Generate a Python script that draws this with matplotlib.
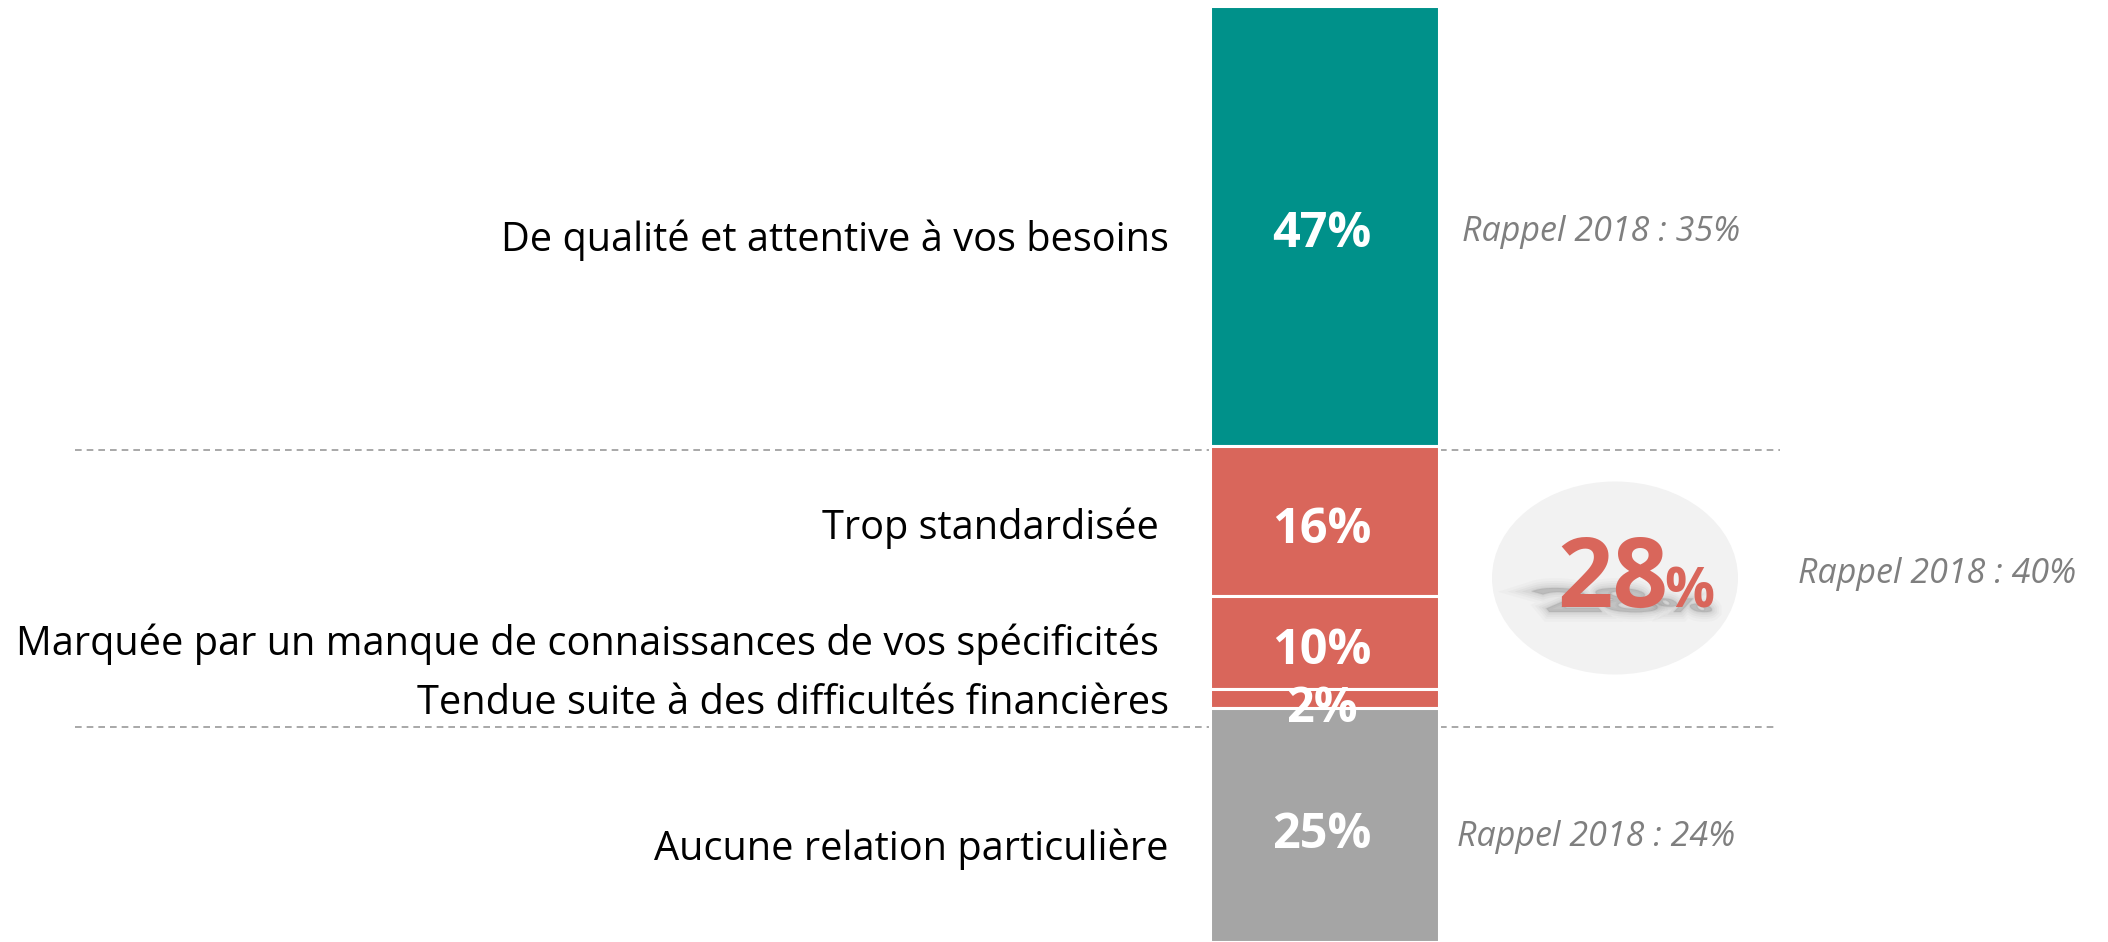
import numpy as np
import matplotlib
matplotlib.use("Agg")
import matplotlib.pyplot as plt
import matplotlib.transforms as mtransforms
from matplotlib.patches import Ellipse, PathPatch
from matplotlib.textpath import TextPath
from matplotlib.font_manager import FontProperties

# Données
categories = [
    "De qualité et attentive à vos besoins",
    "Trop standardisée ",
    "Marquée par un manque de connaissances de vos spécificités ",
    "Tendue suite à des difficultés financières",
    "Aucune relation particulière",
]
valeurs = [47, 16, 10, 2, 25]
couleurs = ["#00918A", "#D9665B", "#D9665B", "#D9665B", "#A5A5A5"]
total_negatif = 28
rappels = ["Rappel 2018 : 35%", "Rappel 2018 : 40%", "Rappel 2018 : 24%"]

W, H = 2108, 942
plt.rcParams['font.family'] = ['Open Sans', 'DejaVu Sans']

fig = plt.figure(figsize=(W / 100, H / 100), dpi=100)
# axe principal : x en pixels, y en pourcentage (0 en haut)
ax = fig.add_axes([0, 0, 1, (H - 6) / H])
ax.set_xlim(0, W)
ax.set_ylim(100, 0)
ax.axis("off")

# coordonnées pixel (origine en haut à gauche)
pix = mtransforms.Affine2D().scale(1, -1).translate(0, H)

x_barre = 1324.5
larg_barre = 229

bas = np.concatenate([[0], np.cumsum(valeurs)[:-1]])
ax.bar(x_barre, valeurs, bottom=bas, width=larg_barre, color=couleurs,
       edgecolor="white", linewidth=2.2, zorder=2)

centres = bas + np.array(valeurs) / 2
decal_pct = [0.95, 1.0, 1.0, 1.2, 1.15]
decal_lab = [1.5, 0.8, 0.2, 0.5, 2.6]
for i, v in enumerate(valeurs):
    ax.text(x_barre - 3, centres[i] + decal_pct[i], f"{v}%", color="white",
            fontsize=35, fontweight="bold", ha="center", va="center", zorder=4)
    ax.text(1169, centres[i] + decal_lab[i], categories[i], color="black",
            fontsize=28.6, ha="right", va="center", zorder=4)

# lignes pointillées de séparation
for y, x2 in [(450, 1780), (727, 1776)]:
    ax.plot([75, x2], [y, y], transform=pix, color="#9a9a9a", lw=1.2,
            ls=(0, (4, 3)), zorder=1, clip_on=False)

# rappels 2018
pos_rappels = [(1462, 232), (1798, 574), (1457, 837)]
for txt, (x, y) in zip(rappels, pos_rappels):
    ax.text(x, y, txt, transform=pix, color="#7f7f7f", fontsize=24.5,
            fontstyle="italic", ha="left", va="center", zorder=4)

# bulle 28%
ax.add_patch(Ellipse((1615, 578), 246, 193, transform=pix,
                     facecolor="#f2f2f2", edgecolor="none", zorder=2))

# ombre floue aplatie
fp = FontProperties(family="Open Sans", weight="bold")
tp = TextPath((0, 0), f"{total_negatif}", size=98, prop=fp)
tp2 = TextPath((0, 0), "%", size=56, prop=fp)
for chemin, x0 in [(tp, 1545), (tp2, 1662)]:
    tr = mtransforms.Affine2D().scale(1.08, -0.34).skew_deg(40, 0).translate(x0, 612) + pix
    for lw, a in [(14, 0.03), (10, 0.04), (7, 0.05), (4, 0.06), (1.5, 0.07)]:
        ax.add_patch(PathPatch(chemin, transform=tr, facecolor="#666666",
                               edgecolor="#666666", lw=lw, alpha=a, zorder=3))

ax.text(1557, 607, f"{total_negatif}", transform=pix, color="#D9665B",
        fontsize=70, fontweight="bold", ha="left", va="baseline", zorder=4)
ax.text(1664, 607, "%", transform=pix, color="#D9665B",
        fontsize=40, fontweight="bold", ha="left", va="baseline", zorder=4)

fig.savefig("out.png", dpi=100)
